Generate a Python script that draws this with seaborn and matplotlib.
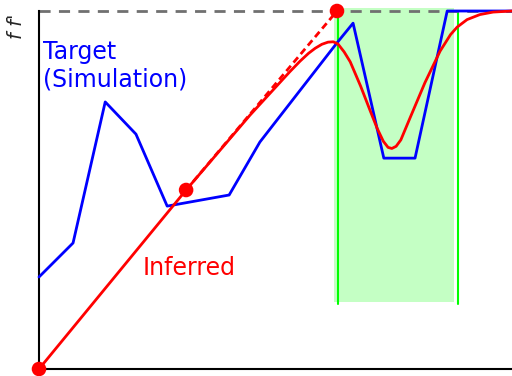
import numpy as np
import pandas as pd
import matplotlib
matplotlib.use("Agg")
import matplotlib.pyplot as plt
import seaborn as sns

# target (simulation) curve
target_x = [0, 0.72, 1.40, 2.05, 2.71, 4.02, 4.67, 6.30, 6.64, 7.29, 7.95, 8.63, 10.0]
target_y = [0.257, 0.352, 0.746, 0.656, 0.455, 0.486, 0.634, 0.911, 0.966, 0.589, 0.589, 1.0, 1.0]

# inferred curve
inferred_x = [0, 3.11, 4.46, 5.30, 5.52, 5.70, 5.84, 5.98, 6.11, 6.22, 6.32, 6.45, 6.58,
              6.80, 7.00, 7.15, 7.28, 7.38, 7.46, 7.55, 7.65, 7.84, 8.16, 8.48,
              8.70, 8.84, 9.05, 9.32, 9.60, 10.0]
inferred_y = [0, 0.50, 0.709, 0.830, 0.860, 0.882, 0.896, 0.907, 0.913, 0.914, 0.908, 0.886, 0.858,
              0.790, 0.722, 0.672, 0.636, 0.619, 0.616, 0.622, 0.640, 0.700, 0.800, 0.888,
              0.934, 0.955, 0.976, 0.990, 0.997, 1.0]

# extrapolated (dashed) segment and key points
extrap_x = [3.11, 6.30]
extrap_y = [0.5, 1.0]
key_x = [0, 3.11, 6.30]
key_y = [0, 0.5, 1.0]

# highlighted window
win_lo, win_hi = 6.237, 8.774
win_lines = [6.321, 8.858]
win_bottom = 0.187

sns.set_style("white")
fig = plt.figure(figsize=(5.12, 3.76), dpi=100)
ax = fig.add_axes([39 / 512, 7 / 376, 473 / 512, 358 / 376])

ax.axvspan(win_lo, win_hi, ymin=win_bottom, ymax=1.009,
           color="lime", alpha=0.23, lw=0, zorder=0, clip_on=False)
for xv in win_lines:
    ax.plot([xv, xv], [win_bottom - 0.005, 1.0], color="lime", lw=1.5, zorder=1)

ax.axhline(1.0, color="#707070", lw=2, dashes=(4, 3), zorder=1, clip_on=False)

sns.lineplot(x=target_x, y=target_y, sort=False, color="blue", lw=2, ax=ax, zorder=3,
             clip_on=False)
sns.lineplot(x=inferred_x, y=inferred_y, sort=False, color="red", lw=2, ax=ax, zorder=4,
             clip_on=False)
ax.plot(extrap_x, extrap_y, color="red", lw=2, dashes=(2.5, 1.5), zorder=4)
sns.scatterplot(x=key_x, y=key_y, color="red", s=110, edgecolor="none", ax=ax,
                zorder=5, clip_on=False)

ax.text(0.085, 0.92, "Target\n(Simulation)", color="blue", fontsize=17,
        va="top", ha="left")
ax.text(2.2, 0.282, "Inferred", color="red", fontsize=17, va="center", ha="left")

fig.text(17 / 512, 1 - 26 / 376, "f f'", rotation=90, fontstyle="italic",
         fontsize=14, ha="center", va="center")

ax.set_xlim(0, 10)
ax.set_ylim(0, 1.0)
ax.set_xticks([])
ax.set_yticks([])
sns.despine(ax=ax, top=True, right=True)
for s in ["left", "bottom"]:
    ax.spines[s].set_color("black")
    ax.spines[s].set_linewidth(1.5)

fig.savefig("out.png", dpi=100)
